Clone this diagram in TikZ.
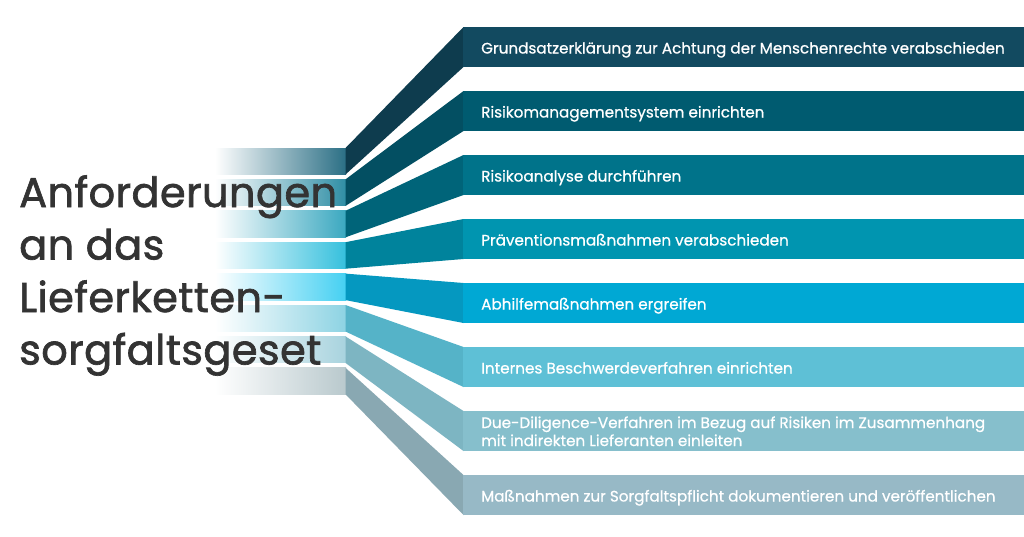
\documentclass[tikz,border=0pt]{standalone}
\usepackage{fontspec}
\setmainfont{Poppins}
\newfontfamily\titlefont{Poppins}[FakeBold=1.6,LetterSpace=1.0]
\newfontfamily\barfont{Poppins}[FakeBold=0.7]
\definecolor{titlegray}{HTML}{333333}
\definecolor{b1}{HTML}{124A60}
\definecolor{b2}{HTML}{005B70}
\definecolor{b3}{HTML}{00738A}
\definecolor{b4}{HTML}{0095B0}
\definecolor{b5}{HTML}{00A8D4}
\definecolor{b6}{HTML}{5EC0D6}
\definecolor{b7}{HTML}{86BFCC}
\definecolor{b8}{HTML}{97B9C6}
\definecolor{r1}{HTML}{0E3C4E}
\definecolor{r2}{HTML}{034F62}
\definecolor{r3}{HTML}{006479}
\definecolor{r4}{HTML}{00839C}
\definecolor{r5}{HTML}{0598C0}
\definecolor{r6}{HTML}{55B3C8}
\definecolor{r7}{HTML}{7DB5C2}
\definecolor{r8}{HTML}{89A8B2}
\definecolor{s1}{HTML}{2B6F85}
\definecolor{s2}{HTML}{2F8EA5}
\definecolor{s3}{HTML}{3AA8C0}
\definecolor{s4}{HTML}{35C0DD}
\definecolor{s5}{HTML}{45D0F2}
\definecolor{s6}{HTML}{8DD3E3}
\definecolor{s7}{HTML}{A8D3DE}
\definecolor{s8}{HTML}{B9C9CD}
\begin{document}
\begin{tikzpicture}[x=1pt,y=-1pt,
  bartext/.style={anchor=base west, text=white, inner sep=0pt,
    font=\barfont\fontsize{15.2}{18}\selectfont, align=left},
  titletext/.style={anchor=base west, text=titlegray, inner sep=0pt,
    font=\titlefont\fontsize{41.5}{50}\selectfont}]
\useasboundingbox (0,0) rectangle (1024,536);
\fill[white] (0,0) rectangle (1024,536);
\foreach \i/\sc/\rc/\bc in {1/s1/r1/b1,2/s2/r2/b2,3/s3/r3/b3,4/s4/r4/b4,5/s5/r5/b5,6/s6/r6/b6,7/s7/r7/b7,8/s8/r8/b8}{
  \pgfmathsetmacro\lt{148+31.4*(\i-1)}
  \pgfmathsetmacro\lb{\lt+26.5}
  \pgfmathsetmacro\rt{27+64*(\i-1)}
  \pgfmathsetmacro\rb{\rt+40}
  \shade[left color=white, right color=\sc] (215,\lt) rectangle (346,\lb);
  \fill[\rc] (345.5,\lt) -- (463.5,\rt) -- (463.5,\rb) -- (345.5,\lb) -- cycle;
  \fill[\bc] (463,\rt) rectangle (1024,\rb);
}
\node[bartext] (t1) at (481,53.5) {Grundsatzerklärung zur Achtung der Menschenrechte verabschieden};
\node[bartext] (t2) at (481,117.5) {Risikomanagementsystem einrichten};
\node[bartext] (t3) at (481,181.5) {Risikoanalyse durchführen};
\node[bartext] (t4) at (481,245.5) {Präventionsmaßnahmen verabschieden};
\node[bartext] (t5) at (481,309.5) {Abhilfemaßnahmen ergreifen};
\node[bartext] (t6) at (481,373.5) {Internes Beschwerdeverfahren einrichten};
\node[bartext] (t7a) at (481,428) {Due-Diligence-Verfahren im Bezug auf Risiken im Zusammenhang};
\node[bartext] (t7b) at (481,446) {mit indirekten Lieferanten einleiten};
\node[bartext] (t8) at (481,501.5) {Maßnahmen zur Sorgfaltspflicht dokumentieren und veröffentlichen};
\node[titletext] (h1) at (19,207) {Anforderungen};
\node[titletext] (h2) at (19,259.5) {an das};
\node[titletext] (h3) at (19,312) {Lieferketten-};
\node[titletext] (h4) at (19,364.5) {sorgfaltsgeset};
\end{tikzpicture}
\end{document}
